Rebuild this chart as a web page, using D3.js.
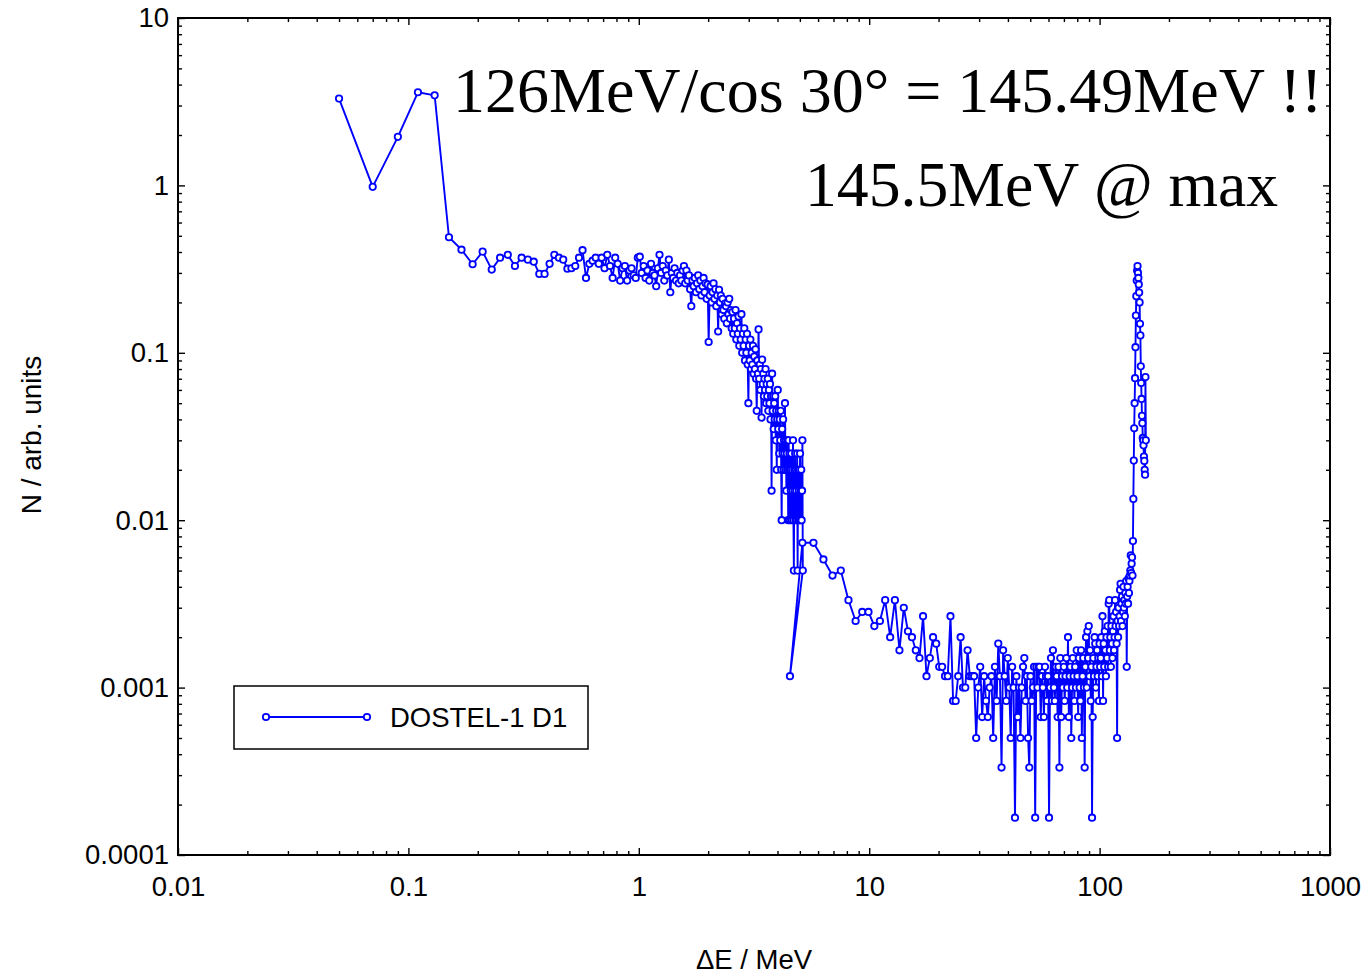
<!DOCTYPE html>
<html><head><meta charset="utf-8">
<script src="https://cdn.jsdelivr.net/npm/d3@7"></script>
<style>body{margin:0;background:#fff}</style>
</head><body>
<svg id="c" width="1368" height="976"></svg>
<script>
// ---- data: segment A (fine bins), segment B (coarse bins) ----
const xA=[0.05,0.07,0.09,0.11,0.13,0.15,0.17,0.19,
0.21,0.23,0.25,0.27,0.29,0.31,0.33,0.35,0.37,0.39,
0.41,0.43,0.45,0.47,0.49,0.51,0.53,0.55,0.57,0.59,
0.61,0.63,0.65,0.67,0.69,0.71,0.73,0.75,0.77,0.79,
0.81,0.83,0.85,0.87,0.89,0.91,0.93,0.95,0.97,0.99,
1.01,1.03,1.05,1.07,1.09,1.11,1.13,1.15,1.17,1.19,
1.21,1.23,1.25,1.27,1.29,1.31,1.33,1.35,1.37,1.39,
1.41,1.43,1.45,1.47,1.49,1.51,1.53,1.55,1.57,1.59,
1.61,1.63,1.65,1.67,1.69,1.71,1.73,1.75,1.77,1.79,
1.81,1.83,1.85,1.87,1.89,1.91,1.93,1.95,1.97,1.99,
2.01,2.03,2.05,2.07,2.09,2.11,2.13,2.15,2.17,2.19,
2.21,2.23,2.25,2.27,2.29,2.31,2.33,2.35,2.37,2.39,
2.41,2.43,2.45,2.47,2.49,2.51,2.53,2.55,2.57,2.59,
2.61,2.63,2.65,2.67,2.69,2.71,2.73,2.75,2.77,2.79,
2.81,2.83,2.85,2.87,2.89,2.91,2.93,2.95,2.97,2.99,
3.01,3.03,3.05,3.07,3.09,3.11,3.13,3.15,3.17,3.19,
3.21,3.23,3.25,3.27,3.29,3.31,3.33,3.35,3.37,3.39,
3.41,3.43,3.45,3.47,3.49,3.51,3.53,3.55,3.57,3.59,
3.61,3.63,3.65,3.67,3.69,3.71,3.73,3.75,3.77,3.79,
3.81,3.83,3.85,3.87,3.89,3.91,3.93,3.95,3.97,3.99,
4.01,4.03,4.05,4.07,4.09,4.11,4.13,4.15,4.17,4.19,
4.21,4.23,4.25,4.27,4.29,4.31,4.33,4.35,4.37,4.39,
4.41,4.43,4.45,4.47,4.49,4.51,4.53,4.55,4.57,4.59,
4.61,4.63,4.65,4.67,4.69,4.71,4.73,4.75,4.77,4.79,
4.81,4.83,4.85,4.87,4.89,4.91,4.93,4.95,4.97,4.99,
5.01,5.03,5.05,5.07,5.09,5.11,5.13,5.15];
const yA=[3.3,0.98,1.95,3.6,3.45,0.49,0.413,0.338,
0.402,0.314,0.37,0.385,0.33,0.37,0.36,0.35,0.296,0.296,
0.34,0.385,0.37,0.36,0.318,0.32,0.33,0.37,0.41,0.28,
0.34,0.355,0.37,0.34,0.37,0.32,0.385,0.33,0.28,0.37,
0.34,0.27,0.32,0.33,0.27,0.31,0.32,0.29,0.28,0.37,
0.375,0.30,0.33,0.28,0.31,0.27,0.34,0.30,0.29,0.25,
0.32,0.385,0.30,0.33,0.27,0.31,0.29,0.36,0.23,0.30,
0.28,0.32,0.27,0.30,0.26,0.29,0.27,0.31,0.33,0.26,
0.31,0.27,0.29,0.24,0.19,0.27,0.25,0.28,0.23,0.26,
0.29,0.24,0.27,0.22,0.25,0.28,0.23,0.26,0.21,0.256,
0.116,0.22,0.25,0.20,0.23,0.26,0.21,0.24,0.19,0.22,
0.134,0.238,0.20,0.22,0.17,0.21,0.18,0.16,0.197,0.19,
0.15,0.20,0.17,0.21,0.16,0.18,0.14,0.175,0.13,0.16,
0.14,0.18,0.12,0.15,0.13,0.165,0.11,0.14,0.12,0.17,
0.10,0.13,0.11,0.14,0.09,0.12,0.10,0.13,0.085,0.05,
0.11,0.09,0.12,0.08,0.10,0.085,0.11,0.075,0.095,0.08,
0.105,0.07,0.045,0.09,0.075,0.138,0.07,0.085,0.06,0.08,
0.041,0.091,0.065,0.075,0.055,0.07,0.06,0.08,0.05,0.065,
0.055,0.07,0.045,0.06,0.05,0.065,0.04,0.055,0.015,0.075,
0.045,0.055,0.035,0.05,0.04,0.055,0.03,0.045,0.02,0.04,
0.06,0.035,0.045,0.025,0.04,0.03,0.045,0.02,0.01,0.035,
0.025,0.04,0.02,0.03,0.025,0.05,0.02,0.03,0.015,0.025,
0.02,0.03,0.01,0.03,0.02,0.025,0.01,0.02,0.015,0.025,
0.01,0.02,0.015,0.03,0.01,0.005,0.02,0.015,0.025,0.01,
0.02,0.015,0.01,0.025,0.005,0.02,0.01,0.015,0.02,0.01,
0.025,0.01,0.015,0.02,0.01,0.015,0.03,0.005];
const xB=[4.53,5.13,5.73,6.33,6.93,7.53,8.13,8.73,9.33,9.93,
10.53,11.13,11.73,12.33,12.93,13.53,14.13,14.73,15.33,15.93,
16.53,17.13,17.73,18.33,18.93,19.53,20.13,20.73,21.33,21.93,
22.53,23.13,23.73,24.33,24.93,25.53,26.13,26.73,27.33,27.93,
28.53,29.13,29.73,30.33,30.93,31.53,32.13,32.73,33.33,33.93,
34.53,35.13,35.73,36.33,36.93,37.53,38.13,38.73,39.33,39.93,
40.53,41.13,41.73,42.33,42.93,43.53,44.13,44.73,45.33,45.93,
46.53,47.13,47.73,48.33,48.93,49.53,50.13,50.73,51.33,51.93,
52.53,53.13,53.73,54.33,54.93,55.53,56.13,56.73,57.33,57.93,
58.53,59.13,59.73,60.33,60.93,61.53,62.13,62.73,63.33,63.93,
64.53,65.13,65.73,66.33,66.93,67.53,68.13,68.73,69.33,69.93,
70.53,71.13,71.73,72.33,72.93,73.53,74.13,74.73,75.33,75.93,
76.53,77.13,77.73,78.33,78.93,79.53,80.13,80.73,81.33,81.93,
82.53,83.13,83.73,84.33,84.93,85.53,86.13,86.73,87.33,87.93,
88.53,89.13,89.73,90.33,90.93,91.53,92.13,92.73,93.33,93.93,
94.53,95.13,95.73,96.33,96.93,97.53,98.13,98.73,99.33,99.93,
100.53,101.13,101.73,102.33,102.93,103.53,104.13,104.73,105.33,105.93,
106.53,107.13,107.73,108.33,108.93,109.53,110.13,110.73,111.33,111.93,
112.53,113.13,113.73,114.33,114.93,115.53,116.13,116.73,117.33,117.93,
118.53,119.13,119.73,120.33,120.93,121.53,122.13,122.73,123.33,123.93,
124.53,125.13,125.73,126.33,126.93,127.53,128.13,128.73,129.33,129.93,
130.53,131.13,131.73,132.33,132.93,133.53,134.13,134.73,135.33,135.93,
136.53,137.13,137.73,138.33,138.93,139.53,140.13,140.73,141.33,141.93,
142.53,143.13,143.73,144.33,144.93,145.53,146.13,146.73,147.33,147.93,
148.53,149.13,149.73,150.33,150.93,151.53,152.13,152.73,153.33,153.93,
154.53,155.13,155.73,156.33,156.93,157.53,158.13,158.73];
const yB=[0.00117,0.00733,0.00733,0.00583,0.00467,0.005,0.00333,0.0025,0.00283,0.00283,
0.00233,0.0025,0.00333,0.002,0.00333,0.00167,0.003,0.00217,0.002,0.00167,
0.0015,0.00267,0.00117,0.0015,0.002,0.00183,0.00133,0.00133,0.00117,0.00117,
0.00267,0.000833,0.000833,0.00117,0.002,0.001,0.001,0.00167,0.00117,0.00117,
0.00117,0.0005,0.001,0.00133,0.000667,0.00117,0.000833,0.000667,0.001,0.00117,
0.0005,0.00133,0.000833,0.00183,0.00117,0.000333,0.00167,0.00117,0.000833,0.0015,
0.001,0.0005,0.00133,0.001,0.000167,0.00117,0.000667,0.001,0.0005,0.001,
0.00133,0.0015,0.000833,0.00117,0.0005,0.000333,0.00117,0.000833,0.001,0.00133,
0.000167,0.00133,0.001,0.00133,0.00133,0.000667,0.00117,0.001,0.000667,0.00133,
0.00117,0.000833,0.00117,0.000167,0.001,0.0015,0.000833,0.00167,0.001,0.000833,
0.00133,0.00117,0.000667,0.00133,0.000333,0.0015,0.000667,0.00117,0.001,0.00133,
0.000833,0.00117,0.0015,0.001,0.002,0.000667,0.00117,0.00133,0.0005,0.001,
0.0015,0.00117,0.000833,0.00133,0.001,0.00167,0.00117,0.000667,0.0015,0.001,
0.000833,0.00167,0.0005,0.00117,0.0015,0.001,0.000333,0.00133,0.002,0.001,
0.00217,0.0015,0.00233,0.00117,0.00167,0.000833,0.00133,0.000167,0.000667,0.0015,
0.00117,0.002,0.00183,0.001,0.00133,0.00167,0.00117,0.0015,0.000833,0.00183,
0.00133,0.0015,0.002,0.00117,0.00267,0.000833,0.00183,0.00133,0.00217,0.00167,
0.00117,0.002,0.0015,0.00233,0.00133,0.00317,0.00333,0.00167,0.002,0.00133,
0.00233,0.00183,0.0015,0.00217,0.00267,0.00167,0.002,0.00333,0.00233,0.00283,
0.00183,0.0005,0.0025,0.002,0.003,0.00233,0.00267,0.00383,0.00417,0.0025,
0.00317,0.0035,0.00233,0.00283,0.004,0.003,0.00333,0.00267,0.00367,0.00317,
0.00433,0.00133,0.0035,0.004,0.00317,0.0045,0.00367,0.00433,0.00467,0.005,
0.00617,0.00483,0.0055,0.006,0.00467,0.0075,0.0134,0.0227,0.0354,0.05,
0.0705,0.108,0.167,0.218,0.27,0.31,0.33,0.30,0.28,0.256,
0.229,0.20,0.149,0.127,0.083,0.066,0.053,0.042,0.038,0.031,
0.030,0.028,0.024,0.0226,0.020,0.0187,0.0716,0.03];

const xTicks=[0.01,0.1,1,10,100,1000];
const xTickLabels=["0.01","0.1","1","10","100","1000"];
const yTicks=[0.0001,0.001,0.01,0.1,1,10];
const yTickLabels=["0.0001","0.001","0.01","0.1","1","10"];
const seriesName="DOSTEL-1 D1";
const xTitle="\u0394E / MeV";
const yTitle="N / arb. units";
const note1="126MeV/cos 30\u00B0 = 145.49MeV !!";
const note2="145.5MeV @ max";

// ---- drawing ----
const svg=d3.select("#c");
const L=178,R=1330,T=18,B=855;
const blue="#0000ff";
const sans="Arial, 'Liberation Sans', sans-serif";
const serif="'Times New Roman', 'Liberation Serif', serif";
const fs=27.5;
const x=d3.scaleLog().domain([0.01,1000]).range([L,R]);
const y=d3.scaleLog().domain([0.0001,10]).range([B,T]);

function minorOf(majors){const m=[];for(let i=0;i<majors.length-1;i++){for(let k=2;k<=9;k++)m.push(majors[i]*k);}return m;}
const xMinor=minorOf(xTicks), yMinor=minorOf(yTicks);

function styleAxis(g){g.select(".domain").remove();g.selectAll("line").attr("stroke","#000").attr("stroke-width",1.4);}

// bottom
svg.append("g").attr("transform",`translate(0,${B})`)
  .call(d3.axisBottom(x).tickValues(xMinor).tickSize(-4).tickFormat("")).call(styleAxis);
svg.append("g").attr("transform",`translate(0,${B})`)
  .call(d3.axisBottom(x).tickValues(xTicks).tickSize(-7).tickPadding(21).tickFormat((d,i)=>xTickLabels[i]))
  .call(styleAxis)
  .call(g=>g.selectAll("text").attr("font-family",sans).attr("font-size",fs).attr("fill","#000"));
// top
svg.append("g").attr("transform",`translate(0,${T})`)
  .call(d3.axisTop(x).tickValues(xMinor).tickSize(-4).tickFormat("")).call(styleAxis);
svg.append("g").attr("transform",`translate(0,${T})`)
  .call(d3.axisTop(x).tickValues(xTicks).tickSize(-7).tickFormat("")).call(styleAxis);
// left
svg.append("g").attr("transform",`translate(${L},0)`)
  .call(d3.axisLeft(y).tickValues(yMinor).tickSize(-4).tickFormat("")).call(styleAxis);
svg.append("g").attr("transform",`translate(${L},0)`)
  .call(d3.axisLeft(y).tickValues(yTicks).tickSize(-7).tickPadding(9).tickFormat((d,i)=>yTickLabels[i]))
  .call(styleAxis)
  .call(g=>g.selectAll("text").attr("font-family",sans).attr("font-size",fs).attr("fill","#000"));
// right
svg.append("g").attr("transform",`translate(${R},0)`)
  .call(d3.axisRight(y).tickValues(yMinor).tickSize(-4).tickFormat("")).call(styleAxis);
svg.append("g").attr("transform",`translate(${R},0)`)
  .call(d3.axisRight(y).tickValues(yTicks).tickSize(-7).tickFormat("")).call(styleAxis);

// frame
svg.append("rect").attr("x",L).attr("y",T).attr("width",R-L).attr("height",B-T)
  .attr("fill","none").attr("stroke","#000").attr("stroke-width",2);

// data
const pts=xA.map((v,i)=>({x:v,y:yA[i]})).concat(xB.map((v,i)=>({x:v,y:yB[i]})));
const line=d3.line().x(d=>x(d.x)).y(d=>y(d.y));
const plot=svg.append("g");
plot.append("path").datum(pts).attr("d",line).attr("fill","none").attr("stroke",blue).attr("stroke-width",1.9).attr("stroke-linejoin","round");
plot.selectAll("circle").data(pts).join("circle")
  .attr("cx",d=>x(d.x)).attr("cy",d=>y(d.y)).attr("r",3.2)
  .attr("fill","#fff").attr("stroke",blue).attr("stroke-width",1.8);

// annotations
svg.append("text").attr("x",453).attr("y",112).attr("font-family",serif).attr("font-size",64).attr("fill","#000").text(note1);
svg.append("text").attr("x",805).attr("y",206).attr("font-family",serif).attr("font-size",63.7).attr("fill","#000").text(note2);

// legend
const lg=svg.append("g");
lg.append("rect").attr("x",234).attr("y",686).attr("width",354).attr("height",63).attr("fill","#fff").attr("stroke","#000").attr("stroke-width",1.5);
lg.append("line").attr("x1",266).attr("x2",367).attr("y1",717).attr("y2",717).attr("stroke",blue).attr("stroke-width",1.9);
[266,367].forEach(cx=>lg.append("circle").attr("cx",cx).attr("cy",717).attr("r",3.2).attr("fill","#fff").attr("stroke",blue).attr("stroke-width",1.8));
lg.append("text").attr("x",390).attr("y",727).attr("font-family",sans).attr("font-size",fs).attr("fill","#000").text(seriesName);

// axis titles
svg.append("text").attr("x",754).attr("y",969).attr("text-anchor","middle").attr("font-family",sans).attr("font-size",fs).attr("fill","#000").text(xTitle);
svg.append("text").attr("transform","translate(41,435) rotate(-90)").attr("text-anchor","middle").attr("font-family",sans).attr("font-size",28).attr("fill","#000").text(yTitle);
</script>
</body></html>
